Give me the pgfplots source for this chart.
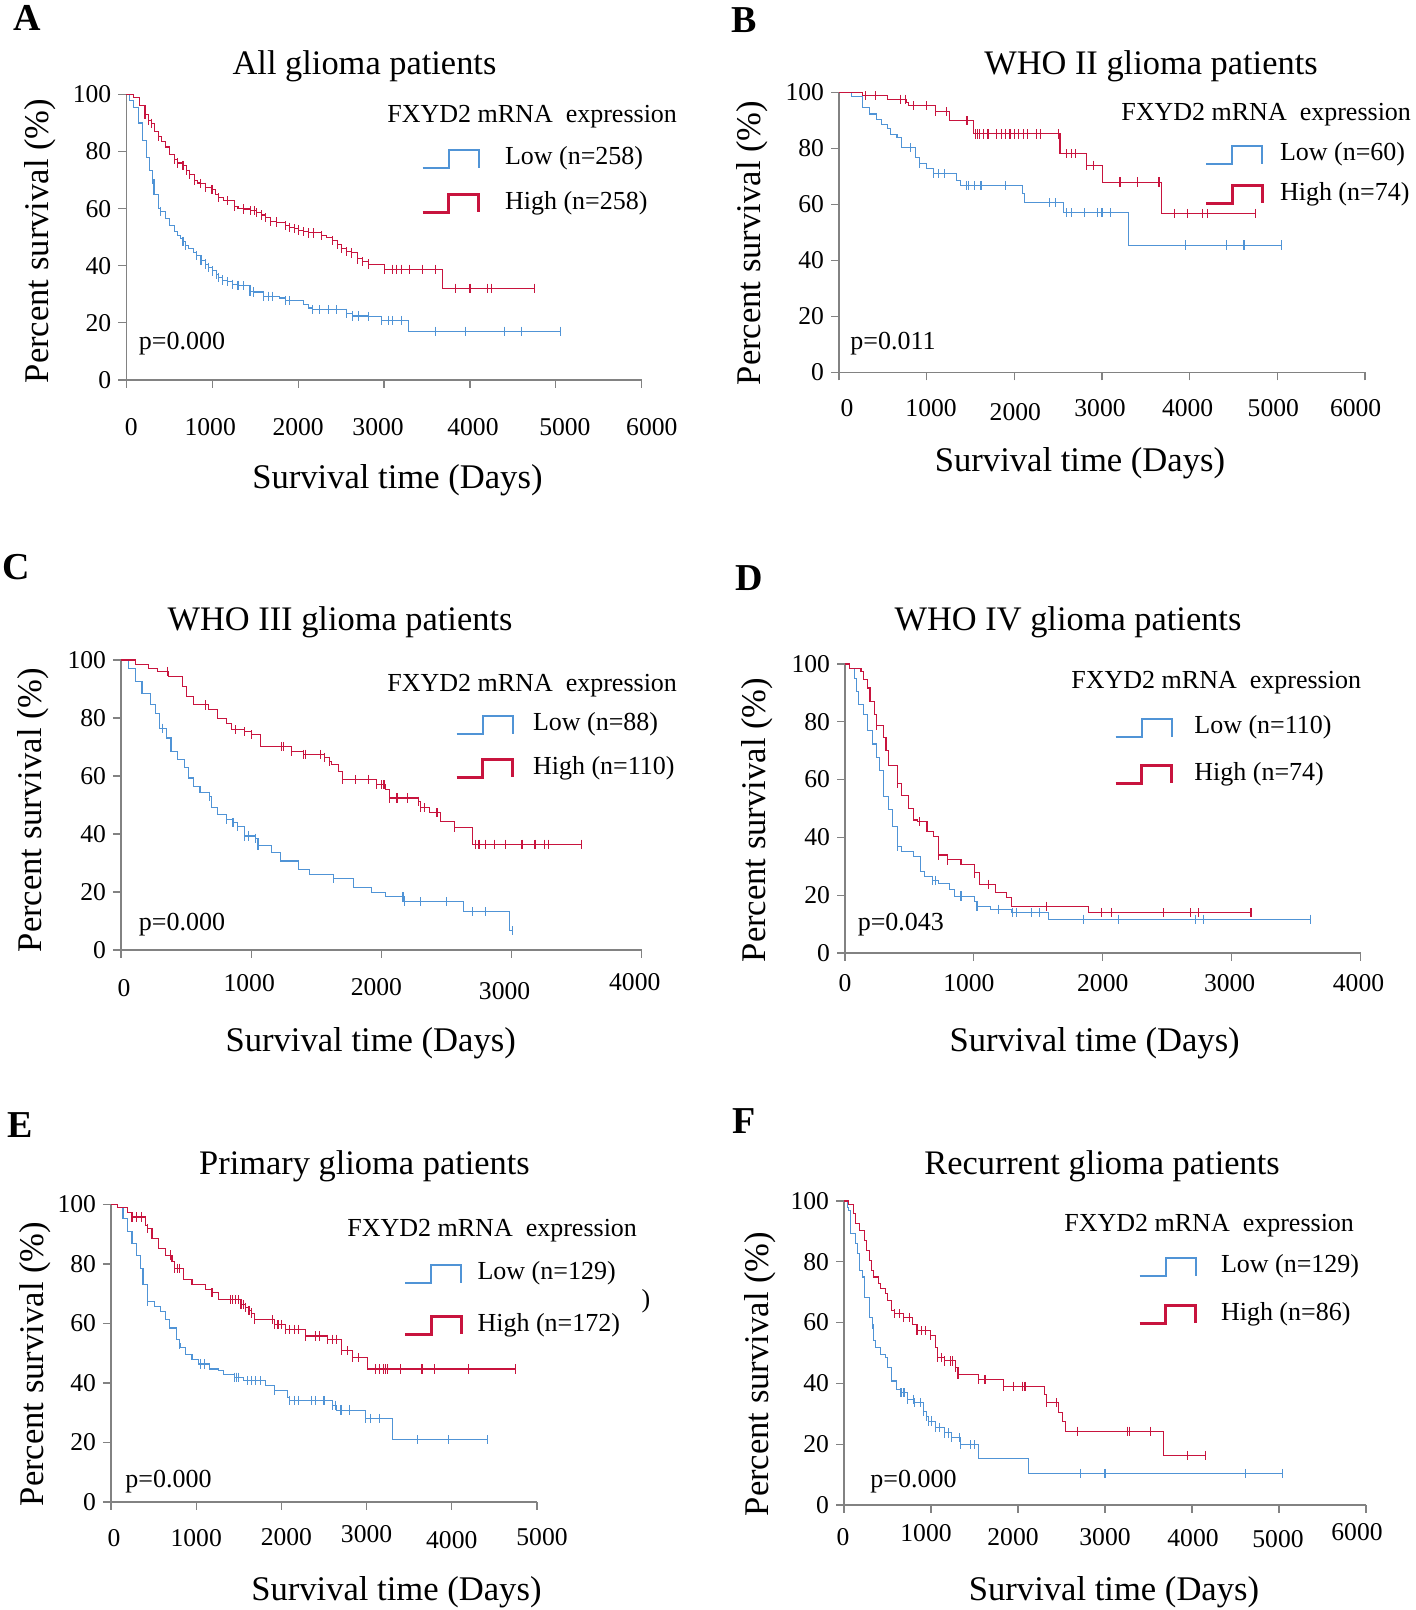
\documentclass[border=0pt]{standalone}
\usepackage{pgfplots}
\pgfplotsset{compat=1.18}
\usepackage{pgfplotstable}
\usepackage{fontspec}
\setmainfont{Liberation Serif}

\definecolor{lowc}{RGB}{80,148,214}
\definecolor{highc}{RGB}{200,20,62}
\definecolor{axgray}{RGB}{130,130,130}

\newcommand\titfont{\fontsize{17.2}{20}\selectfont}
\newcommand\labfont{\fontsize{17.3}{20}\selectfont}
\newcommand\legfont{\fontsize{13}{15}\selectfont}
\newcommand\tickfont{\fontsize{12.8}{15}\selectfont}
\newcommand\letfont{\fontsize{19}{22}\selectfont\bfseries}
% tick label nudged by (#1 right, #2 up) without changing its box
\newcommand\sh[3]{\raisebox{#2}[\height][\depth]{\hspace*{#1}#3\hspace*{-#1}}}

% offsets in reference pixels from the axis origin (\pxX,\pxY)
\tikzset{px/.style 2 args={xshift={(#1-\pxX)*0.5pt},yshift={(\pxY-#2)*0.5pt}}}

\pgfplotsset{
  km/.style={
    scale only axis, anchor=south west,
    axis lines*=left, axis line style={draw=axgray, line width=0.6pt, -},
    xmin=0, ymin=0, ymax=100, ytick={0,20,...,100},
    enlargelimits=false, clip=false,
    tick align=outside, major tick length=4pt,
    tick style={draw=axgray, line width=0.6pt},
    tick label style={font=\tickfont},
    xticklabel style={anchor=center},
    /pgf/number format/assume math mode=true,
    /pgf/number format/1000 sep={},
    scaled x ticks=false,
    every axis title/.style={at={(0,0)}, anchor=center, font=\titfont},
    every axis x label/.style={at={(0,0)}, anchor=center, font=\labfont},
    every axis y label/.style={at={(0,0)}, anchor=center, font=\labfont},
    xlabel={Survival time (Days)}, ylabel={Percent survival (\%)},
    legend cell align=left,
    legend style={at={(0,0)}, anchor=north west, draw=none, fill=none,
      inner sep=0pt, outer sep=0pt, font=\legfont,
      nodes={inner sep=0pt, text height=8pt, text depth=2pt}},
    legend image code/.code={\draw[#1] (0pt,-4.5pt) -- (13pt,-4.5pt) -- (13pt,4.5pt) -- (28pt,4.5pt) -- (28pt,-4.5pt);},
  },
  lowline/.style={const plot, draw=lowc, line width=0.55pt, mark=none, forget plot},
  highline/.style={const plot, draw=highc, line width=0.55pt, mark=none, forget plot},
  lowcens/.style={only marks, mark=|, mark size=2.3pt, mark options={draw=lowc, line width=0.55pt}, forget plot,
    restrict expr to domain={\thisrow{c}}{1:1}},
  highcens/.style={only marks, mark=|, mark size=2.3pt, mark options={draw=highc, line width=0.55pt}, forget plot,
    restrict expr to domain={\thisrow{c}}{1:1}},
}
\tikzset{txt/.style={anchor=west, inner sep=0pt, font=\legfont}}

% ---------- A: all glioma patients
\pgfplotstableread{
t s c
0 100 0
40 98 0
88 95.4 0
140 90 0
192 84 0
230 78 0
270 73.3 0
300 70.3 1
322 65 0
374 60.2 0
400 59 1
452 56.7 0
500 54 0
556 51.9 0
600 50.5 0
634 49.5 0
660 48.5 1
686 47 1
720 46 0
780 44.5 0
816 43.6 1
870 42 1
920 40.6 1
960 39.5 1
1000 38.2 1
1050 37 1
1076 35.9 1
1120 35 1
1180 34.5 1
1232 33.5 1
1300 33.2 1
1362 33 1
1440 31 1
1480 30.8 1
1596 29.3 1
1650 29.3 1
1700 29.3 1
1778 28.7 0
1856 27.8 1
1900 27.8 1
2064 26.4 0
2116 25.2 0
2168 24.6 1
2250 24.6 1
2350 24.6 1
2450 24.6 1
2558 23.4 1
2636 22.4 1
2700 22.4 1
2818 22.2 1
2974 20.8 1
3050 20.8 1
3100 20.8 1
3200 20.8 1
3287 17.1 0
3600 17.1 1
3950 17.1 1
4400 17.1 1
4600 17.1 1
5050 17.1 1
}\tAlo
\pgfplotstableread{
t s c
0 100 0
80 99 0
150 96 0
218 92.9 1
260 91 1
296 89.9 1
330 87 0
374 85.2 1
410 83.5 0
452 81.6 0
500 79 0
556 77.1 1
600 76 1
660 75 1
700 73.5 1
738 72.1 1
790 70 1
830 69 0
868 68.8 1
920 67.5 1
998 66.7 1
1040 65 0
1076 63.8 1
1130 63 0
1180 62.8 1
1258 60.8 1
1300 60.2 0
1362 59.9 1
1450 59.3 1
1492 59.3 1
1520 58.7 1
1570 57.8 1
1620 56.8 1
1674 55.5 1
1750 55.3 1
1856 54 1
1900 53.5 1
1960 53.1 1
2000 52.5 1
2064 51.9 1
2120 51.5 1
2180 51.5 1
2272 50.7 1
2330 50 0
2402 48.9 1
2460 47.5 1
2506 46 1
2558 45 1
2620 44.5 1
2688 42.4 1
2750 41.5 1
2818 40.6 1
2900 40.6 0
3000 38.8 1
3100 38.8 1
3150 38.8 1
3200 38.8 1
3300 38.8 1
3450 38.8 1
3600 38.8 1
3677 32.1 0
3830 32.1 1
4000 32.1 1
4200 32.1 1
4250 32.1 1
4753 32.1 1
}\tAhi

% ---------- B: WHO II
\pgfplotstableread{
t s c
0 100 0
140 98.5 0
270 94.7 0
350 92.3 0
427 90.5 0
480 88.7 0
557 87 0
583 85.1 0
661 83.9 0
714 80.3 0
818 80.3 1
870 76.9 0
922 74.6 1
1000 72.8 0
1078 71 1
1130 71 1
1200 71 1
1339 68.6 0
1390 66.8 0
1450 66.8 1
1480 66.8 1
1550 66.8 1
1620 66.8 1
1900 66.8 1
2094 63.9 0
2120 60.6 0
2400 60.6 1
2470 60.6 1
2562 57 0
2600 57 1
2650 57 1
2800 57 1
2950 57 1
3000 57 1
3100 57 1
3307 45.5 0
3950 45.5 1
4420 45.5 1
4620 45.5 1
5050 45.5 1
}\tBlo
\pgfplotstableread{
t s c
0 100 0
270 98.8 0
300 98.8 1
420 98.8 1
557 97.6 0
700 97.6 1
760 97.6 1
766 96.4 0
792 95.3 0
850 95.3 1
1000 95.3 1
1104 93.1 1
1230 93.1 1
1260 89.9 0
1450 89.9 1
1460 89.9 1
1536 85.2 0
1560 85.2 1
1580 85.2 1
1600 85.2 1
1650 85.2 1
1700 85.2 1
1800 85.2 1
1850 85.2 1
1900 85.2 1
1950 85.2 1
2000 85.2 1
2050 85.2 1
2100 85.2 1
2150 85.2 1
2250 85.2 1
2300 85.2 1
2500 85.2 1
2521 78.1 0
2600 78.1 1
2650 78.1 1
2700 78.1 1
2823 74 1
2900 74 1
3005 68 0
3200 68 1
3210 68 1
3400 68 1
3650 68 1
3682 56.8 0
3830 56.8 1
3980 56.8 1
4150 56.8 1
4200 56.8 1
4750 56.8 1
}\tBhi

% ---------- C: WHO III
\pgfplotstableread{
t s c
0 100 0
58 97.1 0
110 92.6 0
161 88.5 0
230 84.5 0
264 81.7 0
298 76.5 0
320 76.5 1
350 73.1 0
384 68.5 0
435 65.6 0
487 62.8 0
521 59.3 0
555 56.5 0
607 54.2 0
680 53 1
692 49 0
744 46.7 0
812 45 1
860 44 1
898 42.6 1
950 39.3 1
980 39.3 1
1030 38.5 1
1052 35.9 1
1155 33.6 0
1224 30.7 0
1361 27.8 0
1446 26.1 0
1635 24.7 1
1789 21.5 0
1926 19.8 0
2029 18.3 0
2166 18.3 1
2180 16.6 1
2300 16.6 1
2500 16.6 1
2629 13.2 0
2700 13.2 1
2800 13.2 1
2982 6.6 0
3010 6.6 1
}\tClo
\pgfplotstableread{
t s c
0 100 0
110 98.5 0
213 97.1 0
281 96 0
360 96 1
367 94.3 0
470 90.8 0
504 87.4 0
555 84.5 0
650 84.5 1
675 82.8 0
744 79.9 0
812 78.2 0
847 75.9 0
880 75.9 1
950 75.3 1
1000 74.2 1
1069 70.2 0
1230 70.2 1
1250 70.2 1
1309 68.5 1
1400 67.4 1
1420 67.4 1
1530 67.4 1
1560 66.5 1
1600 65.1 1
1618 63.9 0
1669 61.6 0
1704 58.8 1
1800 58.8 1
1900 58.8 1
1961 57 1
2000 57 1
2020 57 1
2029 55.3 0
2063 52.4 1
2120 52.4 1
2200 52.4 1
2286 51.3 1
2303 49 1
2330 49 1
2372 47.3 0
2420 47.3 1
2430 47.3 1
2457 44.4 0
2560 42.2 1
2697 36.5 0
2720 36.5 1
2750 36.5 1
2800 36.5 1
2870 36.5 1
2950 36.5 1
3080 36.5 1
3180 36.5 1
3250 36.5 1
3280 36.5 1
3540 36.5 1
}\tChi

% ---------- D: WHO IV
\pgfplotstableread{
t s c
0 100 0
35 98.5 0
71 95.1 0
88 90.6 0
106 86 0
141 82.6 0
177 76.9 0
212 72.3 0
247 67.7 0
265 63.2 0
300 54 0
335 49.5 0
371 43.8 0
406 36.9 1
441 35.1 0
530 33.4 0
583 28.2 0
618 26.5 0
680 25.1 1
700 25.1 1
724 24.2 0
812 21.9 0
847 19.7 0
900 19.7 1
1006 17.9 0
1024 16.2 1
1130 15.1 0
1190 15.1 1
1289 13.9 0
1300 13.9 1
1330 13.9 1
1450 13.9 1
1510 13.9 1
1578 11.7 0
1850 11.7 1
2120 11.7 1
2720 11.7 1
2780 11.7 1
3610 11.7 1
}\tDlo
\pgfplotstableread{
t s c
0 100 0
35 98.3 0
124 97.4 0
141 94.5 0
177 91.7 0
194 87.1 0
230 82.6 0
247 78.6 1
300 74.6 0
318 70 0
335 64.9 0
406 58.6 1
441 54.6 0
494 50 0
530 46 0
565 45.5 0
580 45.5 1
636 42.1 0
688 40.2 0
724 33.9 1
794 32.2 1
900 30.5 0
1006 27.7 1
1041 23.7 0
1115 23.7 1
1165 20.8 0
1253 19.1 0
1289 16.2 0
1560 16.2 1
1889 13.9 0
1990 13.9 1
2070 13.9 1
2470 13.9 1
2680 13.9 1
2740 13.9 1
3150 13.9 1
}\tDhi

% ---------- E: primary
\pgfplotstableread{
t s c
0 100 0
73 99.1 0
141 95.2 0
193 90.8 0
246 86.9 0
298 83 0
350 78.6 0
376 73 0
428 67.5 1
507 65.8 0
585 64.1 0
637 61.3 0
690 58.5 0
768 54.7 0
800 53.1 1
820 51.9 0
872 49.7 0
951 48 0
1029 46.4 0
1050 46.4 1
1100 46.4 1
1160 44.7 0
1264 44.1 0
1317 43 0
1447 41.9 1
1470 41.9 1
1500 41.9 1
1552 40.8 0
1600 40.8 1
1650 40.8 1
1700 40.8 1
1750 40.8 1
1813 39.1 0
1917 37.4 1
2074 35.2 0
2100 34.1 1
2150 34.1 1
2200 34.1 1
2350 34.1 1
2400 34.1 1
2500 34.1 1
2597 32.5 1
2630 32.5 1
2649 30.9 0
2700 30.9 1
2800 30.9 1
2989 28.1 1
3050 28.1 1
3150 28.1 1
3302 20.9 0
3600 20.9 1
3960 20.9 1
4420 20.9 1
}\tElo
\pgfplotstableread{
t s c
0 100 0
73 99 0
193 97.4 0
246 95.8 1
300 95.8 1
360 95.8 1
402 93 0
428 91.9 1
481 88.6 0
559 85.2 0
637 83 0
700 83 1
716 80.8 0
742 78.6 1
780 78.6 1
800 78.6 1
846 74.7 0
951 73 0
1108 71.4 0
1186 70.3 1
1264 68 0
1400 68 1
1430 68 1
1460 68 1
1500 68 1
1526 66.4 1
1550 66.4 1
1580 65.5 1
1620 64.5 1
1650 63.5 1
1682 61.3 1
1900 61.3 1
1917 59.7 1
1960 59.7 1
2000 59.7 1
2048 58 1
2100 58 1
2150 58 1
2200 58 1
2283 55.8 1
2400 55.8 1
2450 55.8 1
2544 54.7 1
2600 54.7 1
2650 54.7 1
2701 50.8 1
2780 50.8 1
2832 48.6 1
2900 48.6 1
3015 44.7 0
3100 44.7 1
3150 44.7 1
3200 44.7 1
3220 44.7 1
3250 44.7 1
3400 44.7 1
3650 44.7 1
3800 44.7 1
4200 44.7 1
4750 44.7 1
}\tEhi

% ---------- F: recurrent
\pgfplotstableread{
t s c
0 100 0
37 98 0
52 97 0
79 89.3 0
131 86 0
157 82.7 0
183 77.2 0
210 75 0
236 68.4 0
288 61.8 0
330 59.5 1
341 54 0
367 51.8 0
419 49.6 0
472 48.5 0
498 45.2 0
550 40.8 0
603 38 0
655 36.9 1
680 36.9 1
700 36.9 1
734 34.7 1
800 34.7 1
812 33.6 1
880 33.6 1
917 30.9 1
943 29.2 1
970 27.6 1
1010 27.6 1
1048 25.4 1
1100 25.4 1
1153 23.7 1
1200 23.7 1
1232 22.1 1
1330 22.1 1
1336 19.8 1
1450 19.8 1
1500 19.8 1
1546 15.4 0
2123 10.4 0
2720 10.4 1
3000 10.4 1
4610 10.4 1
5040 10.4 1
}\tFlo
\pgfplotstableread{
t s c
0 100 0
52 98.9 0
105 95.9 0
131 92.6 0
183 90.4 0
236 87.1 0
262 83.8 0
288 80.5 0
314 77.2 0
341 75 0
393 72.8 0
419 71.1 0
472 69.5 0
498 67.3 0
550 64 0
576 62.9 1
640 62.9 1
681 61.7 1
750 61.7 1
786 59.5 0
839 57.3 1
890 57.3 1
940 57.3 1
996 55.7 1
1048 51.8 0
1074 48.5 1
1120 48.5 1
1153 47.4 1
1220 47.4 1
1250 47.4 1
1284 45.2 1
1310 43 1
1546 41.3 1
1620 41.3 1
1834 39.1 1
1950 39.1 1
2050 39.1 1
2080 39.1 1
2306 36.4 0
2332 33.6 1
2440 33.6 1
2463 30.3 0
2516 27.6 0
2542 24.3 0
2680 24.3 1
3260 24.3 1
3280 24.3 1
3520 24.3 1
3669 16.3 0
3950 16.3 1
4160 16.3 1
}\tFhi

\begin{document}
\begin{tikzpicture}
\path[use as bounding box] (0,0) rectangle (708pt,805pt);

% ===== A
\def\pxX{126.3}\def\pxY{380}
\begin{axis}[km, at={(63.15pt,615pt)}, width=257.75pt, height=142.75pt,
  xmax=6000, xtick={0,1000,...,6000}, xticklabel style={yshift=-19.5pt},
  xticklabels={\sh{2.5pt}{0pt}{0},\sh{-1pt}{0pt}{1000},2000,\sh{-3pt}{0pt}{3000},\sh{1.5pt}{0pt}{4000},\sh{4.5pt}{0pt}{5000},\sh{5pt}{0pt}{6000}},
  title={All glioma patients}, title style={px={364.5}{66.5}},
  xlabel style={px={397.4}{480}}, ylabel style={px={40}{241}, rotate=90},
  legend style={px={421}{149}, row sep=12pt, column sep=12.5pt}]
\addplot[lowline] table[x=t,y=s] {\tAlo};
\addplot[lowcens] table[x=t,y=s] {\tAlo};
\addplot[highline] table[x=t,y=s] {\tAhi};
\addplot[highcens] table[x=t,y=s] {\tAhi};
\addlegendimage{draw=lowc, line width=1pt}\addlegendentry{Low (n=258)}
\addlegendimage{draw=highc, line width=1.5pt}\addlegendentry{High (n=258)}
\node[txt, px={387}{117}] at (rel axis cs:0,0) {FXYD2 mRNA~~expression};
\node[txt, px={138.6}{344}] at (rel axis cs:0,0) {p=0.000};
\node[px={27.7}{17.5}, font=\letfont] at (rel axis cs:0,0) {A};
\end{axis}

% ===== B
\def\pxX{839}\def\pxY{372.5}
\begin{axis}[km, at={(419.5pt,618.75pt)}, width=263pt, height=140pt,
  xmax=6000, xtick={0,1000,...,6000}, xticklabel style={yshift=-14pt},
  xticklabels={\sh{4pt}{0pt}{0},\sh{2.2pt}{0pt}{1000},\sh{0.5pt}{-2pt}{2000},\sh{-1pt}{0pt}{3000},\sh{-1pt}{0pt}{4000},\sh{-2pt}{0pt}{5000},\sh{-4.7pt}{0pt}{6000}},
  title={WHO II glioma patients}, title style={px={1151}{66.5}},
  xlabel style={px={1080}{463.5}}, ylabel style={px={752.6}{243}, rotate=90},
  legend style={px={1204.5}{145}, row sep=9.5pt, column sep=8.25pt}]
\addplot[lowline] table[x=t,y=s] {\tBlo};
\addplot[lowcens] table[x=t,y=s] {\tBlo};
\addplot[highline] table[x=t,y=s] {\tBhi};
\addplot[highcens] table[x=t,y=s] {\tBhi};
\addlegendimage{draw=lowc, line width=1pt}\addlegendentry{Low (n=60)}
\addlegendimage{draw=highc, line width=1.5pt}\addlegendentry{High (n=74)}
\node[txt, px={1121}{115}] at (rel axis cs:0,0) {FXYD2 mRNA~~expression};
\node[txt, px={850}{344}] at (rel axis cs:0,0) {p=0.011};
\node[px={744.5}{20.5}, font=\letfont] at (rel axis cs:0,0) {B};
\end{axis}

% ===== C
\def\pxX{121}\def\pxY{950}
\begin{axis}[km, at={(60.5pt,330pt)}, width=260.4pt, height=145pt,
  xmax=4000, xtick={0,1000,...,4000}, xticklabel style={yshift=-14pt},
  xticklabels={\sh{1.5pt}{-1pt}{0},\sh{-1pt}{1.5pt}{1000},\sh{-2.5pt}{-0.5pt}{2000},\sh{-3.5pt}{-2.5pt}{3000},\sh{-3.5pt}{2pt}{4000}},
  title={WHO III glioma patients}, title style={px={340}{622}},
  xlabel style={px={370.7}{1043.5}}, ylabel style={px={32.8}{810}, rotate=90},
  legend style={px={455}{715}, row sep=11.5pt, column sep=9.5pt}]
\addplot[lowline] table[x=t,y=s] {\tClo};
\addplot[lowcens] table[x=t,y=s] {\tClo};
\addplot[highline] table[x=t,y=s] {\tChi};
\addplot[highcens] table[x=t,y=s] {\tChi};
\addlegendimage{draw=lowc, line width=1pt}\addlegendentry{Low (n=88)}
\addlegendimage{draw=highc, line width=1.5pt}\addlegendentry{High (n=110)}
\node[txt, px={387}{686}] at (rel axis cs:0,0) {FXYD2 mRNA~~expression};
\node[txt, px={138.6}{925}] at (rel axis cs:0,0) {p=0.000};
\node[px={16.4}{567}, font=\letfont] at (rel axis cs:0,0) {C};
\end{axis}

% ===== D
\def\pxX{845}\def\pxY{953}
\begin{axis}[km, at={(422.5pt,328.5pt)}, width=257.75pt, height=144.5pt,
  xmax=4000, xtick={0,1000,...,4000}, xticklabel style={yshift=-11pt},
  xticklabels={0,\sh{-2.5pt}{0pt}{1000},2000,\sh{-1pt}{0pt}{3000},\sh{-1pt}{0pt}{4000}},
  title={WHO IV glioma patients}, title style={px={1068}{622}},
  xlabel style={px={1094.6}{1043.5}}, ylabel style={px={757}{820}, rotate=90},
  legend style={px={1114}{718}, row sep=13pt, column sep=10.7pt}]
\addplot[lowline] table[x=t,y=s] {\tDlo};
\addplot[lowcens] table[x=t,y=s] {\tDlo};
\addplot[highline] table[x=t,y=s] {\tDhi};
\addplot[highcens] table[x=t,y=s] {\tDhi};
\addlegendimage{draw=lowc, line width=1pt}\addlegendentry{Low (n=110)}
\addlegendimage{draw=highc, line width=1.5pt}\addlegendentry{High (n=74)}
\node[txt, px={1071}{683}] at (rel axis cs:0,0) {FXYD2 mRNA~~expression};
\node[txt, px={857.4}{925}] at (rel axis cs:0,0) {p=0.043};
\node[px={749.6}{578}, font=\letfont] at (rel axis cs:0,0) {D};
\end{axis}

% ===== E
\def\pxX{111}\def\pxY{1502}
\begin{axis}[km, at={(55.5pt,54pt)}, width=213pt, height=148.75pt,
  xmax=5000, xtick={0,1000,...,5000}, xticklabel style={yshift=-14pt},
  xticklabels={\sh{1.5pt}{0pt}{0},1000,\sh{2.5pt}{0.5pt}{2000},\sh{0pt}{2pt}{3000},\sh{0pt}{-1pt}{4000},\sh{2.5pt}{0.5pt}{5000}},
  title={Primary glioma patients}, title style={px={364.5}{1166.5}},
  xlabel style={px={396.4}{1592}}, ylabel style={px={35}{1364}, rotate=90},
  legend style={px={403.6}{1264}, row sep=15.5pt, column sep=7.5pt}]
\addplot[lowline] table[x=t,y=s] {\tElo};
\addplot[lowcens] table[x=t,y=s] {\tElo};
\addplot[highline] table[x=t,y=s] {\tEhi};
\addplot[highcens] table[x=t,y=s] {\tEhi};
\addlegendimage{draw=lowc, line width=1pt}\addlegendentry{Low (n=129)}
\addlegendimage{draw=highc, line width=1.5pt}\addlegendentry{High (n=172)}
\node[txt, px={347}{1231}] at (rel axis cs:0,0) {FXYD2 mRNA~~expression};
\node[px={646}{1301}, font=\legfont] at (rel axis cs:0,0) {)};
\node[txt, px={125}{1482}] at (rel axis cs:0,0) {p=0.000};
\node[px={20.5}{1125.5}, font=\letfont] at (rel axis cs:0,0) {E};
\end{axis}

% ===== F
\def\pxX{844}\def\pxY{1505}
\begin{axis}[km, at={(422pt,52.5pt)}, width=261pt, height=152pt,
  xmax=6000, xtick={0,1000,...,6000}, xticklabel style={yshift=-12pt},
  xticklabels={\sh{-0.5pt}{0pt}{0},\sh{-2.5pt}{2pt}{1000},\sh{-2.5pt}{0pt}{2000},3000,\sh{0.5pt}{-0.5pt}{4000},\sh{-0.5pt}{-1pt}{5000},\sh{-4.5pt}{2.5pt}{6000}},
  title={Recurrent glioma patients}, title style={px={1102}{1166.5}},
  xlabel style={px={1114}{1592}}, ylabel style={px={760}{1374}, rotate=90},
  legend style={px={1138}{1257}, row sep=13.5pt, column sep=12pt}]
\addplot[lowline] table[x=t,y=s] {\tFlo};
\addplot[lowcens] table[x=t,y=s] {\tFlo};
\addplot[highline] table[x=t,y=s] {\tFhi};
\addplot[highcens] table[x=t,y=s] {\tFhi};
\addlegendimage{draw=lowc, line width=1pt}\addlegendentry{Low (n=129)}
\addlegendimage{draw=highc, line width=1.5pt}\addlegendentry{High (n=86)}
\node[txt, px={1064}{1226}] at (rel axis cs:0,0) {FXYD2 mRNA~~expression};
\node[txt, px={870}{1482}] at (rel axis cs:0,0) {p=0.000};
\node[px={744.5}{1121}, font=\letfont] at (rel axis cs:0,0) {F};
\end{axis}
\end{tikzpicture}
\end{document}
